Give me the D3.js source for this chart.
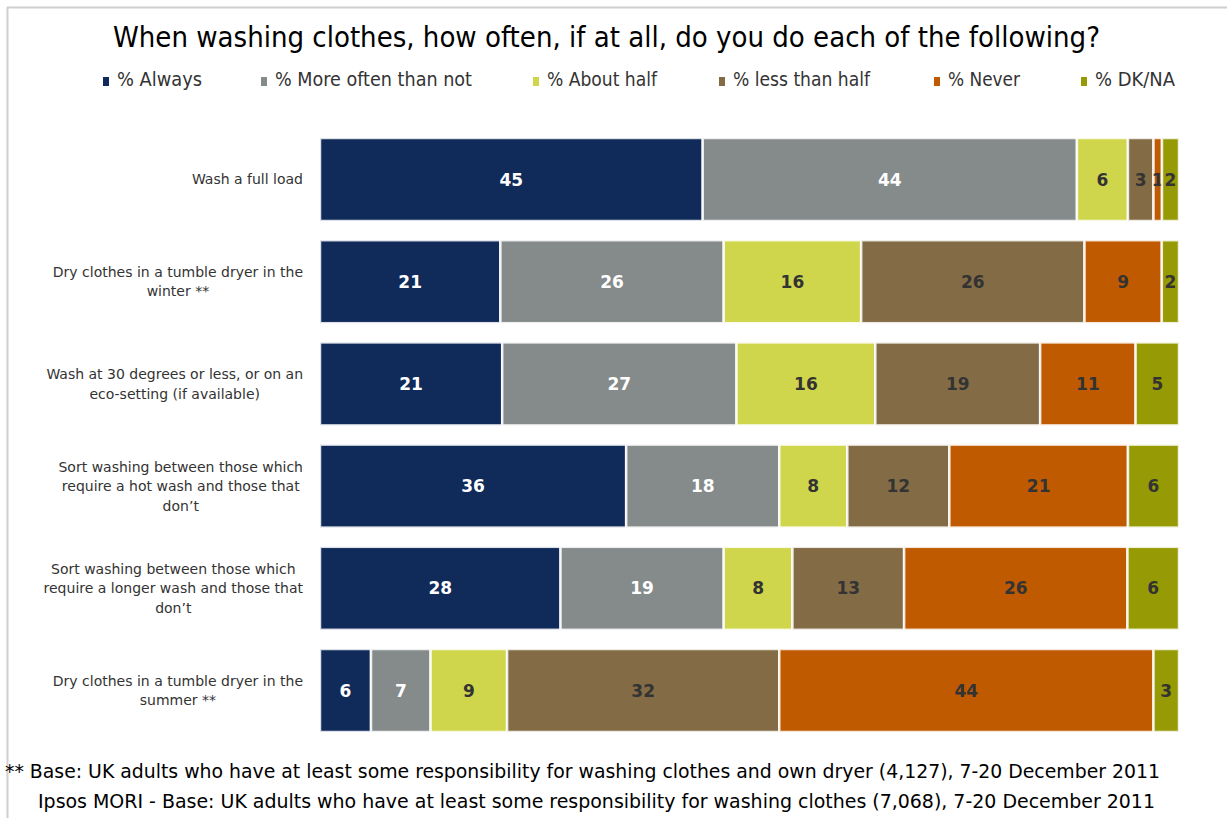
<!DOCTYPE html>
<html>
<head>
<meta charset="utf-8">
<script src="https://cdn.jsdelivr.net/npm/d3@7"></script>
<style>
  html, body { margin: 0; padding: 0; background: #fff; }
  svg { display: block; }
</style>
</head>
<body>
<svg id="chart" width="1227" height="818"></svg>
<script>
// Survey statements (rows, top to bottom)
const categories = [
  ["Wash a full load"],
  ["Dry clothes in a tumble dryer in the", "winter **"],
  ["Wash at 30 degrees or less, or on an", "eco-setting (if available)"],
  ["Sort washing between those which", "require a hot wash and those that", "don\u2019t"],
  ["Sort washing between those which", "require a longer wash and those that", "don\u2019t"],
  ["Dry clothes in a tumble dryer in the", "summer **"]
];

// Response options (stack order, left to right)
const seriesNames = ["% Always", "% More often than not", "% About half", "% less than half", "% Never", "% DK/NA"];

// Percentages per response option, one value per statement
const always        = [45, 21, 21, 36, 28, 6];
const moreOftenThan = [44, 26, 27, 18, 19, 7];
const aboutHalf     = [6, 16, 16, 8, 8, 9];
const lessThanHalf  = [3, 26, 19, 12, 13, 32];
const never         = [1, 9, 11, 21, 26, 44];
const dkNa          = [2, 2, 5, 6, 6, 3];

const titleText = "When washing clothes, how often, if at all, do you do each of the following?";
const footnotes = [
  "** Base: UK adults who have at least some responsibility for washing clothes and own dryer (4,127), 7-20 December 2011",
  "Ipsos MORI - Base: UK adults who have at least some responsibility for washing clothes (7,068), 7-20 December 2011"
];

const seriesValues = [always, moreOftenThan, aboutHalf, lessThanHalf, never, dkNa];
const colors = ["#102a5a", "#858b8b", "#d0d64c", "#836c45", "#c05a00", "#969a04"];
const labelColors = ["#ffffff", "#ffffff", "#333333", "#333333", "#333333", "#333333"];

// Rows as objects so d3.stack can lay them out (each row scaled to 100%)
const rows = categories.map((c, i) => {
  const o = { idx: i };
  const total = d3.sum(seriesValues, s => s[i]);
  seriesNames.forEach((n, k) => { o[n] = seriesValues[k][i] / total * 100; o["raw" + k] = seriesValues[k][i]; });
  return o;
});

const svg = d3.select("#chart");
const condensed = "'DejaVu Sans Condensed', 'DejaVu Sans', sans-serif";

// Frame lines along top and left edge
svg.append("line").attr("x1", 7).attr("x2", 1227).attr("y1", 7.5).attr("y2", 7.5)
  .attr("stroke", "#cfcfcf").attr("stroke-width", 2);
svg.append("line").attr("x1", 7.5).attr("x2", 7.5).attr("y1", 7).attr("y2", 818)
  .attr("stroke", "#cfcfcf").attr("stroke-width", 2);

// Title
svg.append("text")
  .attr("x", 113).attr("y", 47)
  .attr("font-family", condensed)
  .attr("font-size", 29)
  .attr("fill", "#000")
  .attr("textLength", 987).attr("lengthAdjust", "spacingAndGlyphs")
  .text(titleText);

// Legend
const legendX = [117, 275, 547, 733, 948, 1095];
const legendW = [85, 197, 110, 137, 72, 80];
const legend = svg.append("g");
seriesNames.forEach((n, k) => {
  legend.append("rect")
    .attr("x", legendX[k] - 14).attr("y", 77).attr("width", 6).attr("height", 9)
    .attr("fill", colors[k]);
  legend.append("text")
    .attr("x", legendX[k]).attr("y", 86)
    .attr("font-family", condensed).attr("font-size", 19).attr("fill", "#333")
    .attr("textLength", legendW[k]).attr("lengthAdjust", "spacingAndGlyphs")
    .text(n);
});

// Scales
const x = d3.scaleLinear().domain([0, 100]).range([320, 1179]);
const y = d3.scaleBand().domain(d3.range(categories.length)).range([138, 732])
  .paddingInner(0.188).paddingOuter(0);

const stack = d3.stack().keys(seriesNames);
const stacked = stack(rows);

const layers = svg.append("g").selectAll("g")
  .data(stacked).join("g")
  .attr("fill", (d, k) => colors[k]);

layers.selectAll("rect")
  .data(d => d).join("rect")
  .attr("x", d => x(d[0]))
  .attr("y", d => y(d.data.idx))
  .attr("width", d => x(d[1]) - x(d[0]))
  .attr("height", y.bandwidth())
  .attr("stroke", "#ffffff")
  .attr("stroke-opacity", 0.85)
  .attr("stroke-width", 2.5);

// Value labels centred in each segment
layers.each(function(layer, k) {
  d3.select(this).selectAll("text")
    .data(layer).join("text")
    .attr("x", d => (x(d[0]) + x(d[1])) / 2)
    .attr("y", d => y(d.data.idx) + y.bandwidth() / 2)
    .attr("dy", "0.36em")
    .attr("text-anchor", "middle")
    .attr("font-family", "'DejaVu Sans', Verdana, sans-serif")
    .attr("font-weight", "bold")
    .attr("font-size", 17)
    .attr("fill", labelColors[k])
    .text(d => d.data["raw" + k]);
});

// Category labels: block right-aligned, lines centred within block
const labelFont = 14;
const lineH = 19.5;
const catG = svg.append("g");
categories.forEach((lines, i) => {
  const g = catG.append("g");
  const texts = lines.map(l => g.append("text")
    .attr("font-family", "'DejaVu Sans', Verdana, sans-serif")
    .attr("font-size", labelFont)
    .attr("fill", "#333")
    .attr("text-anchor", "middle")
    .text(l));
  const maxW = d3.max(texts, t => t.node().getComputedTextLength());
  const cx = 303 - maxW / 2;
  const cy = y(i) + y.bandwidth() / 2;
  texts.forEach((t, j) => {
    t.attr("x", cx).attr("y", cy + (j - (lines.length - 1) / 2) * lineH).attr("dy", "0.35em");
  });
});

// Footnotes
const footX = [5, 38];
const footY = [778, 808];
const footW = [1155, 1117];
footnotes.forEach((f, i) => {
  svg.append("text")
    .attr("x", footX[i]).attr("y", footY[i])
    .attr("font-family", condensed).attr("font-size", 19).attr("fill", "#000")
    .attr("textLength", footW[i]).attr("lengthAdjust", "spacingAndGlyphs")
    .text(f);
});
</script>
</body>
</html>
